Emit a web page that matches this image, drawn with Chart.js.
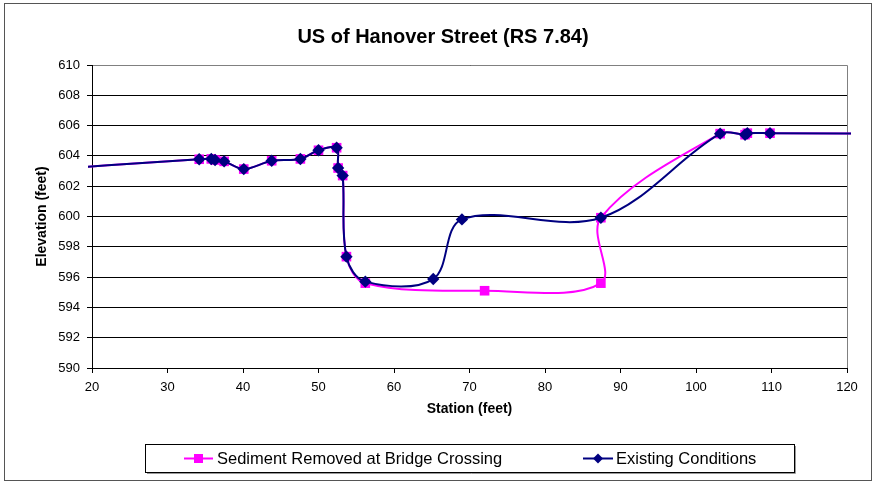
<!DOCTYPE html>
<html>
<head>
<meta charset="utf-8">
<script src="https://cdn.jsdelivr.net/npm/chart.js@4.4.1/dist/chart.umd.min.js"></script>
<style>
  html, body { margin: 0; padding: 0; background: #fff; }
  canvas { display: block; }
</style>
</head>
<body>
<canvas id="chart" width="875" height="482"></canvas>
<script>
const FONT = "'Liberation Sans', Arial, sans-serif";
const TITLE = "US of Hanover Street (RS 7.84)";
const X_LABEL = "Station (feet)";
const Y_LABEL = "Elevation (feet)";
const X_MIN = 20, X_MAX = 120, X_STEP = 10;
const Y_MIN = 590, Y_MAX = 610, Y_STEP = 2;

const SERIES_NAMES = ["Sediment Removed at Bridge Crossing", "Existing Conditions"];
const SERIES_COLORS = ["#ff00ff", "#000080"];

// survey points (station ft, elevation ft)
const sedimentStation = [10, 34.2, 35.8, 36.3, 37.5, 40.1, 43.8, 47.6, 50.0, 52.4, 52.6, 53.2, 53.7, 56.2, 72.0, 87.4, 87.4, 103.2, 106.5, 106.8, 109.8, 130];
const sedimentElev    = [602.97, 603.78, 603.8, 603.73, 603.64, 603.13, 603.68, 603.8, 604.37, 604.54, 603.2, 602.7, 597.35, 595.6, 595.1, 595.6, 599.92, 605.47, 605.4, 605.5, 605.5, 605.47];

const existingStation = [10, 34.2, 35.8, 36.3, 37.5, 40.1, 43.8, 47.6, 50.0, 52.4, 52.6, 53.2, 53.7, 56.2, 65.2, 69.0, 87.4, 103.2, 106.5, 106.8, 109.8, 130];
const existingElev    = [602.97, 603.78, 603.8, 603.73, 603.64, 603.13, 603.68, 603.8, 604.37, 604.54, 603.2, 602.7, 597.35, 595.7, 595.87, 599.81, 599.92, 605.47, 605.4, 605.5, 605.5, 605.47];

const pts = (xs, ys) => xs.map((x, i) => ({ x, y: ys[i] }));

function marker(ctx, kind, x, y, color) {
  ctx.fillStyle = color;
  ctx.beginPath();
  if (kind === "rect") {
    ctx.rect(x - 4.5, y - 4.5, 9, 9);
  } else {
    ctx.moveTo(x, y - 5); ctx.lineTo(x + 5, y); ctx.lineTo(x, y + 5); ctx.lineTo(x - 5, y);
    ctx.closePath();
  }
  ctx.fill();
}

const decor = {
  id: "decor",
  beforeDatasetsDraw(chart) {
    const { ctx, chartArea: a } = chart;
    const top = Math.round(a.top) + 0.5, right = Math.round(a.right) + 0.5;
    ctx.save();
    ctx.strokeStyle = "#808080";
    ctx.lineWidth = 1;
    ctx.beginPath();
    ctx.moveTo(a.left + 1, top);
    ctx.lineTo(right, top);
    ctx.lineTo(right, a.bottom);
    ctx.stroke();
    ctx.restore();
  },
  afterDraw(chart) {
    const ctx = chart.ctx;
    ctx.save();
    // outer frame
    ctx.strokeStyle = "#555";
    ctx.lineWidth = 1;
    ctx.strokeRect(4.5, 3.5, 867, 477);

    // title
    ctx.fillStyle = "#000";
    ctx.font = `bold 20px ${FONT}`;
    ctx.textAlign = "center";
    ctx.textBaseline = "alphabetic";
    ctx.fillText(TITLE, 443, 43);

    // legend box
    ctx.strokeStyle = "#999";
    ctx.beginPath();
    ctx.moveTo(147, 473.5); ctx.lineTo(795.5, 473.5); ctx.lineTo(795.5, 446);
    ctx.stroke();
    ctx.fillStyle = "#fff";
    ctx.fillRect(145, 444, 650, 29);
    ctx.strokeStyle = "#000";
    ctx.strokeRect(145.5, 444.5, 649, 28);

    const items = [
      { x0: 184, x1: 213, tx: 217, kind: "rect" },
      { x0: 583, x1: 613, tx: 616, kind: "rectRot" },
    ];
    ctx.font = `16.5px ${FONT}`;
    ctx.textAlign = "left";
    items.forEach((it, i) => {
      const y = 458.5;
      ctx.strokeStyle = SERIES_COLORS[i];
      ctx.lineWidth = 2;
      ctx.beginPath();
      ctx.moveTo(it.x0, y); ctx.lineTo(it.x1, y);
      ctx.stroke();
      marker(ctx, it.kind, (it.x0 + it.x1) / 2, y, SERIES_COLORS[i]);
      ctx.fillStyle = "#000";
      ctx.fillText(SERIES_NAMES[i], it.tx, 464);
    });
    ctx.restore();
  },
};

new Chart(document.getElementById("chart"), {
  type: "line",
  data: {
    datasets: [
      {
        label: SERIES_NAMES[0],
        data: pts(sedimentStation, sedimentElev),
        borderColor: SERIES_COLORS[0],
        backgroundColor: SERIES_COLORS[0],
        borderWidth: 2,
        pointStyle: "rect",
        pointRadius: 6.8,
        pointBorderWidth: 0,
        tension: 0.35,
        order: 1,
        clip: { left: 4, right: 4, top: 2, bottom: 2 },
      },
      {
        label: SERIES_NAMES[1],
        data: pts(existingStation, existingElev),
        borderColor: SERIES_COLORS[1],
        backgroundColor: SERIES_COLORS[1],
        borderWidth: 2,
        pointStyle: "rectRot",
        pointRadius: 6.2,
        pointBorderWidth: 0,
        tension: 0.35,
        order: 0,
        clip: { left: 4, right: 4, top: 2, bottom: 2 },
      },
    ],
  },
  options: {
    responsive: false,
    animation: false,
    devicePixelRatio: 1,
    layout: { padding: { top: 65, right: 28, left: 0, bottom: 0 } },
    plugins: {
      legend: { display: false },
      title: { display: false },
      tooltip: { enabled: false },
    },
    scales: {
      x: {
        type: "linear",
        min: X_MIN, max: X_MAX,
        ticks: { stepSize: X_STEP, color: "#000", font: { family: FONT, size: 13 }, padding: 7, maxRotation: 0 },
        grid: { drawOnChartArea: false, drawTicks: true, tickLength: 5, color: "#000" },
        border: { color: "#000" },
        title: { display: true, text: X_LABEL, color: "#000", font: { family: FONT, size: 14, weight: "bold" }, padding: { top: 0, bottom: 64 } },
        afterFit: s => { s.height = 114; },
      },
      y: {
        type: "linear",
        min: Y_MIN, max: Y_MAX,
        ticks: { stepSize: Y_STEP, color: "#000", font: { family: FONT, size: 13 }, padding: 7 },
        grid: { color: "#000", tickLength: 5 },
        border: { color: "#000" },
        title: { display: true, text: Y_LABEL, color: "#000", font: { family: FONT, size: 14, weight: "bold" }, padding: { top: 34, bottom: 0 } },
        afterFit: s => { s.width = 92; },
      },
    },
  },
  plugins: [decor],
});
</script>
</body>
</html>
